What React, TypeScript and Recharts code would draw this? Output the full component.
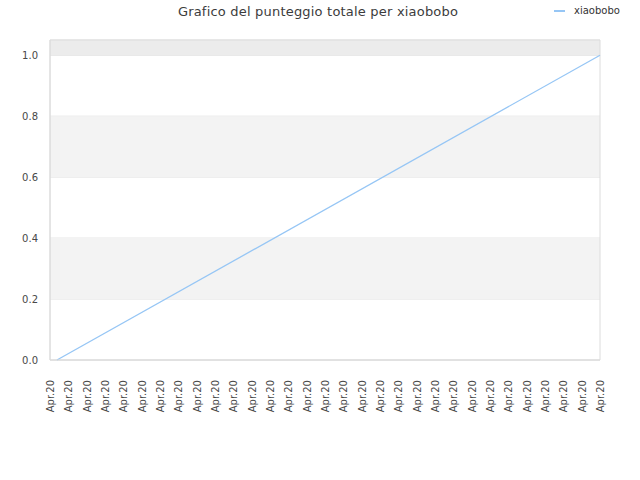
import React from "react";
import { LineChart, Line, XAxis, YAxis, CartesianGrid, ReferenceArea } from "recharts";

const tickLabels: string[] = Array.from({ length: 31 }, () => "Apr.20");
const xValues: number[] = [0.38, 30];
const scoreValues: number[] = [0, 1];
const yTicks: number[] = [0, 0.2, 0.4, 0.6, 0.8, 1.0];
const bands: [number, number][] = [[0.2, 0.4], [0.6, 0.8]];

const data = xValues.map((x, i) => ({ x, score: scoreValues[i] }));
const xTicks = tickLabels.map((_, i) => i);

const FONT = "'DejaVu Sans', sans-serif";

const XTick = (props: any) => {
  const { x, y, payload } = props;
  return (
    <text
      x={x + 4}
      y={y + 12}
      transform={`rotate(-90, ${x + 4}, ${y + 12})`}
      textAnchor="end"
      fontSize={10}
      fill="#484848"
      fontFamily={FONT}
    >
      {tickLabels[payload.value]}
    </text>
  );
};

export default function App() {
  return (
    <div style={{ position: "absolute", left: 0, top: 0, width: 640, height: 480, background: "#fff" }}>
      <div
        style={{
          position: "absolute",
          top: 4,
          left: 0,
          width: 636,
          textAlign: "center",
          fontFamily: FONT,
          fontSize: 13,
          color: "#3c3c3c",
          letterSpacing: 0.2,
        }}
      >
        Grafico del punteggio totale per xiaobobo
      </div>
      <div
        style={{
          position: "absolute",
          top: 5,
          left: 554,
          fontFamily: FONT,
          fontSize: 10,
          color: "#333",
          display: "flex",
          alignItems: "center",
        }}
      >
        <span style={{ display: "inline-block", width: 11, height: 2, background: "#96c6f5", marginRight: 9 }} />
        xiaobobo
      </div>
      <LineChart width={640} height={480} data={data} margin={{ top: 40, right: 40, bottom: 0, left: 0 }}>
        {bands.map(([a, b], i) => (
          <ReferenceArea key={i} x1={0} x2={30} y1={a} y2={b} fill="#f3f3f3" fillOpacity={1} stroke="none" />
        ))}
        <ReferenceArea x1={0} x2={30} y1={1.0} y2={1.05} fill="#ececec" fillOpacity={1} stroke="none" />
        <CartesianGrid vertical={false} stroke="#e2e2e2" />
        <ReferenceArea x1={0} x2={30} y1={0} y2={1.05} fill="none" stroke="#dcdcdc" />
        <XAxis
          type="number"
          dataKey="x"
          domain={[0, 30]}
          ticks={xTicks}
          interval={0}
          height={120}
          tick={<XTick />}
          tickLine={false}
          axisLine={{ stroke: "#dcdcdc" }}
        />
        <YAxis
          type="number"
          domain={[0, 1.05]}
          ticks={yTicks}
          width={50}
          tickSize={0}
          tickMargin={12}
          tickLine={false}
          axisLine={{ stroke: "#dcdcdc" }}
          tickFormatter={(v: number) => v.toFixed(1)}
          tick={{ fontSize: 10, fill: "#484848", fontFamily: FONT }}
        />
        <Line
          type="linear"
          dataKey="score"
          stroke="#96c6f5"
          strokeWidth={1.3}
          dot={false}
          isAnimationActive={false}
        />
      </LineChart>
    </div>
  );
}
